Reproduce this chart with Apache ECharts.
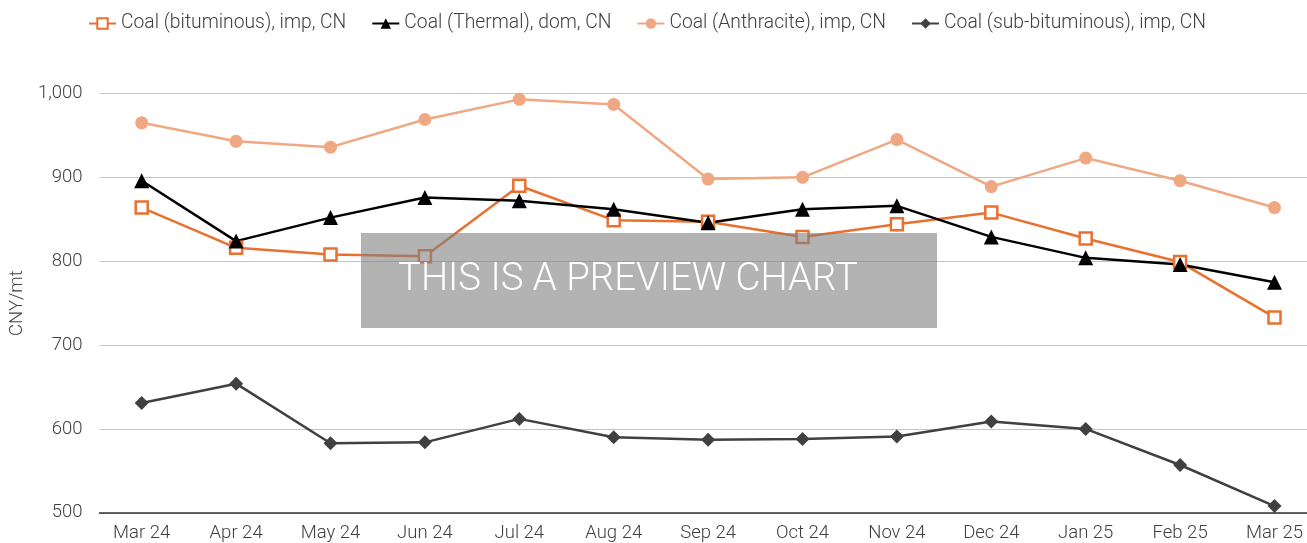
<!DOCTYPE html>
<html>
<head>
<meta charset="utf-8">
<script src="https://cdn.jsdelivr.net/npm/echarts@6/dist/echarts.min.js"></script>
<style>
html,body{margin:0;padding:0;background:#fff;}
#main{width:1307px;height:543px;}
</style>
</head>
<body>
<div id="main"></div>
<script>
var categories = ['Mar 24','Apr 24','May 24','Jun 24','Jul 24','Aug 24','Sep 24','Oct 24','Nov 24','Dec 24','Jan 25','Feb 25','Mar 25'];
var bituminous = [864, 816, 808, 806, 890, 849, 847, 829, 844, 858, 827, 799, 733];
var thermal = [896, 824, 852, 876, 872, 862, 846, 862, 866, 829, 804, 796, 775];
var anthracite = [965, 943, 936, 969, 993, 987, 898, 900, 945, 889, 923, 896, 864];
var subBituminous = [631, 654, 583, 584, 612, 590, 587, 588, 591, 609, 600, 557, 508];
var seriesNames = ['Coal (bituminous), imp, CN','Coal (Thermal), dom, CN','Coal (Anthracite), imp, CN','Coal (sub-bituminous), imp, CN'];
var yTicks = {min: 500, max: 1000, interval: 100};

var FONT = 'Roboto, "Noto Sans", sans-serif';
var TXT = {fontFamily: FONT, fontSize: 18.5, fontWeight: 300, color: '#404040'};
var chart = echarts.init(document.getElementById('main'), null, {renderer: 'canvas'});
function mk(name, data, color, symbol, size, fill) {
  return {
    name: name, type: 'line', data: data,
    xAxisIndex: 1, yAxisIndex: 1,
    symbol: symbol, symbolSize: size,
    lineStyle: {color: color, width: 2.5},
    itemStyle: {color: fill || color, borderColor: color, borderWidth: fill ? 2.5 : 0},
    emphasis: {disabled: true},
    animation: false, z: 3
  };
}
chart.setOption({
  backgroundColor: '#ffffff',
  animation: false,
  legend: {
    left: 83, top: 9,
    itemWidth: 27, itemHeight: 13, itemGap: 25,
    textStyle: {fontFamily: FONT, fontSize: 19.3, fontWeight: 300, color: '#404040'},
    data: seriesNames
  },
  grid: [
    {left: 95, right: 0, top: 93.5, height: 419.3},
    {left: 141.7, right: 32.5, top: 93.5, height: 419.3}
  ],
  xAxis: [
    {type: 'value', gridIndex: 0, min: 0, max: 1,
      axisLine: {show: true, onZero: false, lineStyle: {color: '#333', width: 1.5}},
      axisTick: {show: false}, axisLabel: {show: false}, splitLine: {show: false}},
    {type: 'category', gridIndex: 1, data: categories, boundaryGap: false,
      axisLine: {show: false},
      axisTick: {show: false},
      axisLabel: Object.assign({margin: 11, interval: 0}, TXT),
      splitLine: {show: false}}
  ],
  yAxis: [
    {type: 'value', gridIndex: 0, min: yTicks.min, max: yTicks.max, interval: yTicks.interval,
      name: 'CNY/mt', nameLocation: 'middle', nameGap: 55, nameRotate: 90,
      nameTextStyle: TXT,
      axisLine: {show: false}, axisTick: {show: false},
      axisLabel: Object.assign({margin: 17,
        formatter: function (v) { return v.toLocaleString('en-US'); }}, TXT),
      splitLine: {lineStyle: {color: '#c4c4c4', width: 1}}},
    {type: 'value', gridIndex: 1, min: yTicks.min, max: yTicks.max, interval: yTicks.interval,
      show: false, splitLine: {show: false}}
  ],
  series: [
    mk(seriesNames[0], bituminous, '#E8712F', 'rect', 12, '#ffffff'),
    mk(seriesNames[1], thermal, '#000000', 'triangle', 15),
    mk(seriesNames[2], anthracite, '#F0A883', 'circle', 13),
    mk(seriesNames[3], subBituminous, '#404040', 'diamond', 14)
  ],
  graphic: [
    {type: 'rect', left: 361, top: 233, z: 100,
      shape: {width: 576, height: 95},
      style: {fill: 'rgba(128,128,128,0.6)'}},
    {type: 'text', x: 398, y: 280, z: 101,
      style: {text: 'THIS IS A PREVIEW CHART', fill: '#ffffff', verticalAlign: 'middle',
        font: '300 38.4px Roboto, "Noto Sans", sans-serif'}}
  ]
});
</script>
</body>
</html>
